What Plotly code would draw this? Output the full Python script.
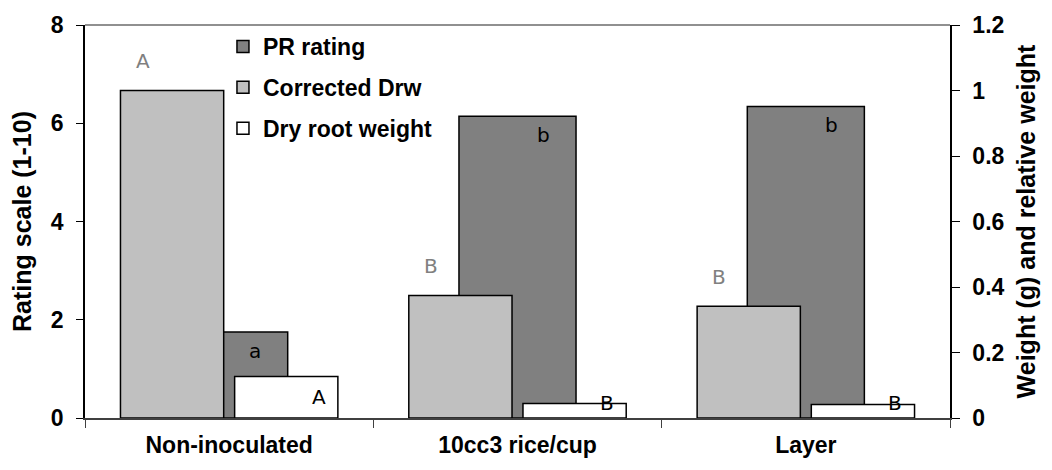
import plotly.graph_objects as go

categories = ["Non-inoculated", "10cc3 rice/cup", "Layer"]
pr_rating = [1.75, 6.14, 6.34]            # left axis (rating scale)
corrected_drw = [1.0, 0.374, 0.341]       # right axis (relative weight)
dry_root_weight = [0.127, 0.044, 0.041]   # right axis (g)
pr_letters = ["a", "b", "b"]
cdrw_letters = ["A", "B", "B"]
drw_letters = ["A", "B", "B"]

Y1_MAX, Y2_MAX = 8, 1.2
scale = Y1_MAX / Y2_MAX

FONT = "Liberation Sans, Arial, sans-serif"
LFONT = "DejaVu Sans, Verdana, sans-serif"

fig = go.Figure()
fig.add_trace(go.Bar(
    name="PR rating", x=categories, y=pr_rating, yaxis="y",
    width=0.406, offset=-0.203,
    marker=dict(color="#808080", line=dict(color="black", width=1.5)),
    legendgroup="g1"))
fig.add_trace(go.Bar(
    name="Corrected Drw", x=categories, y=corrected_drw, yaxis="y2",
    width=0.358, offset=-0.377,
    marker=dict(color="#C0C0C0", line=dict(color="black", width=1.5)),
    legendgroup="g2"))
fig.add_trace(go.Bar(
    name="Dry root weight", x=categories, y=dry_root_weight, yaxis="y2",
    width=0.358, offset=0.019,
    marker=dict(color="#FFFFFF", line=dict(color="black", width=1.5)),
    legendgroup="g3"))

annotations = []
for i in range(len(categories)):
    annotations.append(dict(x=i - 0.30, y=corrected_drw[i] * scale + 0.6, xref="x", yref="y",
                            text=cdrw_letters[i], showarrow=False,
                            font=dict(family=LFONT, size=20, color="#808080")))
    annotations.append(dict(x=i + 0.09, y=pr_rating[i] - 0.38, xref="x", yref="y",
                            text=pr_letters[i], showarrow=False,
                            font=dict(family=LFONT, size=20, color="black")))
    annotations.append(dict(x=i + 0.31, y=max(dry_root_weight[i] * scale - 0.41, 0.3), xref="x", yref="y",
                            text=drw_letters[i], showarrow=False,
                            font=dict(family=LFONT, size=20, color="black")))

fig.update_layout(
    width=1052, height=470,
    margin=dict(l=85, r=102, t=20, b=52),
    plot_bgcolor="white", paper_bgcolor="white",
    barmode="overlay",
    font=dict(family=FONT, size=22, color="black"),
    xaxis=dict(type="category", range=[-0.5, 2.5], tickson="boundaries",
               ticks="outside", ticklen=8, tickcolor="#404040",
               showline=True, linecolor="#404040", linewidth=1.5,
               showgrid=False, zeroline=False, ticklabelstandoff=6,
               tickfont=dict(family=FONT, size=23, color="black")),
    yaxis=dict(range=[0, Y1_MAX], dtick=2, ticks="outside", ticklen=7,
               showline=True, linecolor="black", linewidth=1.5, tickcolor="black",
               showgrid=False, zeroline=False, ticklabelstandoff=8,
               tickfont=dict(family=FONT, size=23, color="black"),
               title=dict(text="<b>Rating scale (1-10)</b>", font=dict(family=FONT, size=25), standoff=12)),
    yaxis2=dict(range=[0, Y2_MAX], dtick=0.2, overlaying="y", side="right",
                ticks="outside", ticklen=8,
                showline=True, linecolor="black", linewidth=1.5, tickcolor="black",
                showgrid=False, zeroline=False, ticklabelstandoff=8,
                tickfont=dict(family=FONT, size=23, color="black"),
                title=dict(text="<b>Weight (g) and relative weight</b>", font=dict(family=FONT, size=25), standoff=14)),
    legend=dict(x=0.1595, y=1.0, xanchor="left", yanchor="top",
                bgcolor="rgba(0,0,0,0)", tracegroupgap=8,
                font=dict(family=FONT, size=23, color="black")),
    annotations=annotations,
    shapes=[dict(type="line", xref="paper", yref="paper", x0=0, x1=1, y0=1, y1=1,
                 line=dict(color="#909090", width=2))],
)
fig.update_xaxes(tickprefix="<b>", ticksuffix="</b>")
fig.update_yaxes(tickprefix="<b>", ticksuffix="</b>")
for tr in fig.data:
    tr.name = "<b>" + tr.name + "</b>"

fig.write_html("out.html")
